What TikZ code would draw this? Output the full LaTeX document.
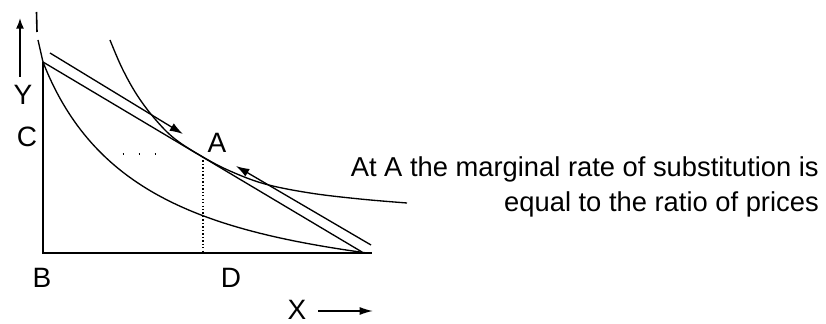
\documentclass[tikz,border=0pt]{standalone}
\usepackage{fontspec}
\setmainfont{Liberation Sans}
\usetikzlibrary{arrows.meta}
\begin{document}
\begin{tikzpicture}[x=0.75pt,y=-0.75pt,
  lbl/.style={font=\fontsize{21}{24}\selectfont, inner sep=0pt},
  txt/.style={font=\fontsize{20.5}{24}\selectfont, inner sep=0pt, anchor=base east},
  curve/.style={line width=1pt},
  axis/.style={line width=1.4pt},
  arr/.style={line width=1pt, -{Latex[length=10pt,width=6.5pt]}},
  dots/.style={line width=1pt, dash pattern=on 1pt off 1.6pt},
  sparse/.style={line width=1.2pt, dash pattern=on 1.2pt off 10.8pt}
]
\useasboundingbox (0,0) rectangle (826,324);
% axes
\coordinate (Ytop) at (43,62);
\coordinate (O) at (43,253);
\coordinate (Xend) at (372,253);
\draw[axis] (Ytop) -- (O) -- (Xend);
% small mark at top
\coordinate (m1) at (36.5,12);
\coordinate (m2) at (37,32);
\draw[line width=1.2pt] (m1) -- (m2);
% budget line
\coordinate (Bs) at (43,62);
\coordinate (Be) at (362,252);
\draw[curve] (Bs) -- (Be);
% lower convex curve
\coordinate (Ls) at (38,40);
\coordinate (Le) at (367,253);
\draw[curve] (Ls) -- (Bs) .. controls (93,190) and (200,230) .. (Le);
% indifference curve
\draw[curve] plot[smooth, tension=0.6] coordinates {(110,40) (122,68) (137,95) (155,119) (175,139) (203,157) (230,171) (265,184) (310,193) (360,199) (407,203)};
% arrows toward A
\coordinate (La) at (50,53);
\coordinate (Lt) at (183,134);
\draw[arr] (La) -- (Lt);
\coordinate (Ra) at (371,245);
\coordinate (Rt) at (236,166);
\draw[arr] (Ra) -- (Rt);
% dotted lines
\coordinate (Apt) at (203,157);
\coordinate (Dpt) at (203,253);
\draw[dots] (Apt) -- (Dpt);
\coordinate (h1) at (122.5,154);
\coordinate (h2) at (160,154);
\draw[sparse] (h1) -- (h2);
% axis arrows
\coordinate (ya) at (20,77);
\coordinate (yb) at (20,18);
\draw[line width=1.2pt, -{Latex[length=8pt,width=6pt]}] (ya) -- (yb);
\coordinate (xa) at (318,311);
\coordinate (xb) at (373,311);
\draw[line width=1.2pt, -{Latex[length=10pt,width=6pt]}] (xa) -- (xb);
% labels
\node[lbl] (Y) at (23,95) {Y};
\node[lbl] (C) at (27,137) {C};
\node[lbl] (B) at (42,278) {B};
\node[lbl] (D) at (231,278) {D};
\node[lbl] (X) at (297,310) {X};
\node[lbl] (A) at (217,143) {A};
% text
\node[txt] (t1) at (819,177) {At A the marginal rate of substitution is};
\node[txt] (t2) at (819,212) {equal to the ratio of prices};
\end{tikzpicture}
\end{document}
